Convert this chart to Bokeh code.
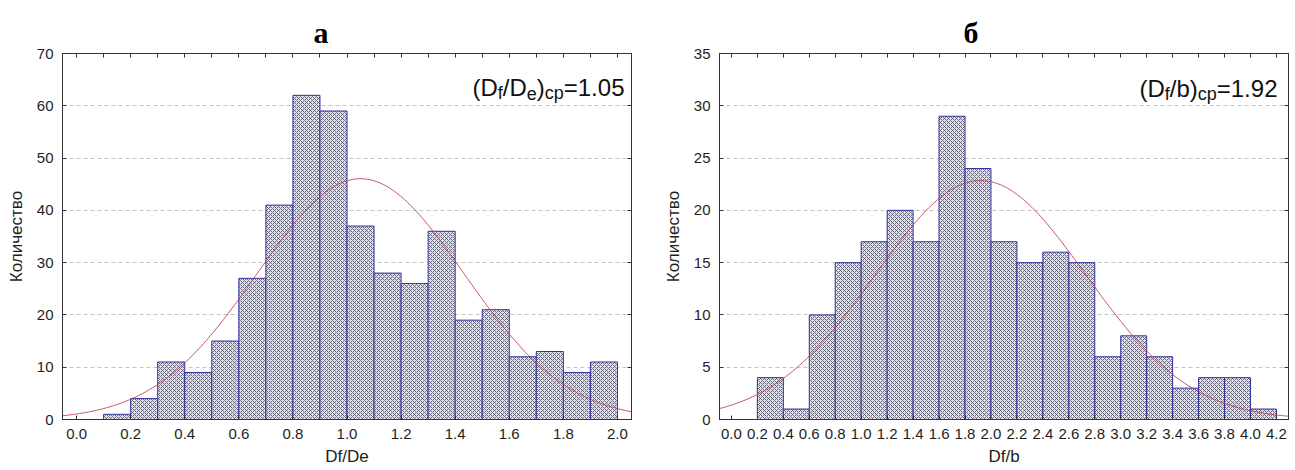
import math
import numpy as np
from bokeh.plotting import figure
from bokeh.models import LinearAxis, FixedTicker, NumeralTickFormatter, Range1d, Label
from bokeh.layouts import row
from bokeh.embed import file_html
from bokeh.resources import INLINE

# ---------------- data: panel а ----------------
a_title = "а"
a_xlabel = "Df/De"
a_bin_starts = [0.1, 0.2, 0.3, 0.4, 0.5, 0.6, 0.7, 0.8, 0.9, 1.0,
                1.1, 1.2, 1.3, 1.4, 1.5, 1.6, 1.7, 1.8, 1.9]
a_counts = [1, 4, 11, 9, 15, 27, 41, 62, 59, 37, 28, 26, 36, 19, 21, 12, 13, 9, 11]
a_bin_width = 0.1
a_mean = 1.05
a_sd = 0.382
a_xticks = [0.0, 0.2, 0.4, 0.6, 0.8, 1.0, 1.2, 1.4, 1.6, 1.8, 2.0]
a_top_ticks = [0.0, 0.1, 0.2, 0.3, 0.4, 0.5, 0.6, 0.7, 0.8, 0.9, 1.0,
               1.1, 1.2, 1.3, 1.4, 1.5, 1.6, 1.7, 1.8, 1.9, 2.0]
a_yticks = [0, 10, 20, 30, 40, 50, 60, 70]
a_annotation = [("(D", False), ("f", True), ("/D", False), ("e", True),
                (")", False), ("cp", True), ("=1.05", False)]

# ---------------- data: panel б ----------------
b_title = "б"
b_xlabel = "Df/b"
b_bin_starts = [0.2, 0.4, 0.6, 0.8, 1.0, 1.2, 1.4, 1.6, 1.8, 2.0,
                2.2, 2.4, 2.6, 2.8, 3.0, 3.2, 3.4, 3.6, 3.8, 4.0]
b_counts = [4, 1, 10, 15, 17, 20, 17, 29, 24, 17, 15, 16, 15, 6, 8, 6, 3, 4, 4, 1]
b_bin_width = 0.2
b_mean = 1.92
b_sd = 0.81
b_xticks = [0.0, 0.2, 0.4, 0.6, 0.8, 1.0, 1.2, 1.4, 1.6, 1.8, 2.0,
            2.2, 2.4, 2.6, 2.8, 3.0, 3.2, 3.4, 3.6, 3.8, 4.0, 4.2]
b_top_ticks = b_xticks
b_yticks = [0, 5, 10, 15, 20, 25, 30, 35]
b_annotation = [("(D", False), ("f", True), ("/b", False),
                (")", False), ("cp", True), ("=1.92", False)]

y_label = "Количество"

# Arial / Liberation Sans advance widths (per 1000 em)
ADV = {'(': 333, ')': 333, 'D': 722, 'f': 278, '/': 278, 'e': 556, 'c': 500,
       'p': 556, '=': 584, '1': 556, '.': 278, '0': 556, '5': 556, '9': 556,
       '2': 556, 'b': 556}

FONT = "Liberation Sans"
AX_COL = "#333333"
TXT_COL = "#1e1e1e"


def panel(title, title_offset, xlabel, starts, counts, bw, mean, sd, xticks, top_ticks,
          yticks, xr, yr, width, bl, br, ylab_standoff, anno, anno_x, anno_y):
    p = figure(width=width, height=470, x_range=Range1d(*xr), y_range=Range1d(*yr),
               output_backend="svg", toolbar_location=None,
               min_border_left=bl, min_border_right=br, min_border_top=53,
               min_border_bottom=51, outline_line_color=AX_COL, outline_line_width=1,
               background_fill_color="white", border_fill_color="white")
    p.title.text = title
    p.title.align = "left"
    p.title.offset = title_offset
    p.title.text_font = "Liberation Serif"
    p.title.text_font_size = "30px"
    p.title.text_font_style = "bold"
    p.title.text_color = "black"
    p.title.standoff = 10

    rights = [s + bw for s in starts]
    p.quad(left=starts, right=rights, bottom=0, top=counts,
           fill_color="#e2e2ea", hatch_pattern="diagonal_cross", hatch_color="#5c5c74",
           hatch_scale=4, hatch_weight=0.9, line_color="#30309e", line_width=1)

    n = sum(counts)
    xs = np.linspace(xr[0], xr[1], 400)
    ys = n * bw / (sd * math.sqrt(2 * math.pi)) * np.exp(-0.5 * ((xs - mean) / sd) ** 2)
    p.line(xs, ys, line_color="#c0404f", line_width=1, line_alpha=0.9)

    # grid
    p.xgrid.visible = False
    p.ygrid.grid_line_dash = "4 3"
    p.ygrid.grid_line_color = "#c4c4c4"

    # bottom axis
    xa = p.xaxis[0]
    xa.ticker = FixedTicker(ticks=xticks, minor_ticks=[])
    xa.formatter = NumeralTickFormatter(format="0.0")
    xa.major_tick_in = 4
    xa.major_tick_out = 0
    xa.minor_tick_in = 0
    xa.minor_tick_out = 0
    xa.axis_line_color = AX_COL
    xa.major_tick_line_color = AX_COL
    xa.major_label_text_font = FONT
    xa.major_label_text_font_size = "15px"
    xa.major_label_text_color = TXT_COL
    xa.major_label_standoff = 9
    xa.axis_label = xlabel
    xa.axis_label_text_font = FONT
    xa.axis_label_text_font_size = "17px"
    xa.axis_label_text_font_style = "normal"
    xa.axis_label_text_color = TXT_COL
    xa.axis_label_standoff = 5

    # left axis
    ya = p.yaxis[0]
    ya.ticker = FixedTicker(ticks=yticks, minor_ticks=[])
    ya.major_tick_in = 4
    ya.major_tick_out = 0
    ya.minor_tick_in = 0
    ya.minor_tick_out = 0
    ya.axis_line_color = AX_COL
    ya.major_tick_line_color = AX_COL
    ya.major_label_text_font = FONT
    ya.major_label_text_font_size = "15px"
    ya.major_label_text_color = TXT_COL
    ya.major_label_standoff = 9
    ya.axis_label = y_label
    ya.axis_label_text_font = FONT
    ya.axis_label_text_font_size = "17px"
    ya.axis_label_text_font_style = "normal"
    ya.axis_label_text_color = TXT_COL
    ya.axis_label_standoff = ylab_standoff

    # top ticks (inward, no labels)
    top = LinearAxis(ticker=FixedTicker(ticks=top_ticks, minor_ticks=[]),
                     major_tick_in=4, major_tick_out=0, minor_tick_in=0, minor_tick_out=0,
                     major_label_text_font_size="0px", major_label_text_color=None,
                     major_label_standoff=0, axis_line_color=AX_COL,
                     major_tick_line_color=AX_COL)
    p.add_layout(top, "above")
    # right ticks (inward, no labels)
    rgt = LinearAxis(ticker=FixedTicker(ticks=yticks, minor_ticks=[]),
                     major_tick_in=4, major_tick_out=0, minor_tick_in=0, minor_tick_out=0,
                     major_label_text_font_size="0px", major_label_text_color=None,
                     major_label_standoff=0, axis_line_color=AX_COL,
                     major_tick_line_color=AX_COL)
    p.add_layout(rgt, "right")

    # annotation with subscripts
    fs_main, fs_sub = 24, 18
    widths = [sum(ADV[c] for c in t) / 1000.0 * (fs_sub if sub else fs_main) for t, sub in anno]
    off = -sum(widths)
    for (t, sub), w in zip(anno, widths):
        p.add_layout(Label(x=anno_x, y=anno_y, x_offset=off, y_offset=(-6 if sub else 0),
                           text=t, text_font=FONT,
                           text_font_size=f"{fs_sub if sub else fs_main}px",
                           text_align="left", text_baseline="alphabetic",
                           text_color="#111111"))
        off += w
    return p


p1 = panel(a_title, 251, a_xlabel, a_bin_starts, a_counts, a_bin_width, a_mean, a_sd,
           a_xticks, a_top_ticks, a_yticks, (-0.052, 2.052), (0, 70),
           650, 62, 19, 8, a_annotation, 2.026, 63.5)
p2 = panel(b_title, 244, b_xlabel, b_bin_starts, b_counts, b_bin_width, b_mean, b_sd,
           b_xticks, b_top_ticks, b_yticks, (-0.092, 4.293), (0, 35),
           645, 69, 7, 8, b_annotation, 4.208, 31.7)

layout = row(p1, p2)
open("out.html", "w").write(file_html(layout, INLINE))
